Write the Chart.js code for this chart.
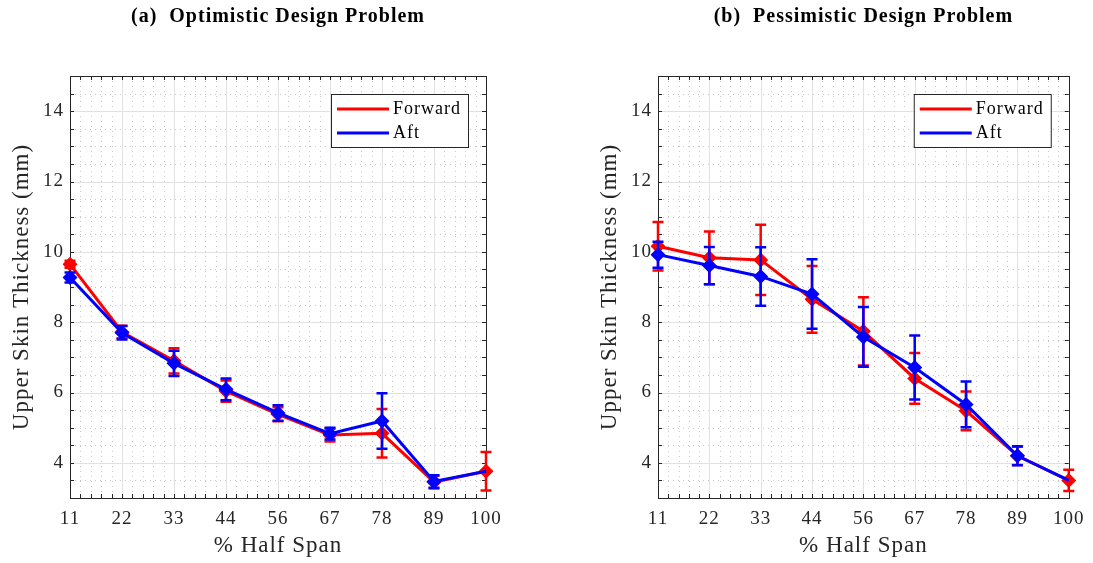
<!DOCTYPE html>
<html>
<head>
<meta charset="utf-8">
<script src="https://cdn.jsdelivr.net/npm/chart.js@4"></script>
<style>
  body { margin: 0; background: #fff; width: 1093px; height: 563px; overflow: hidden; position: relative; }
  .panel { position: absolute; top: 0; height: 563px; }
</style>
</head>
<body>
<div class="panel" style="left:0;width:546px"><canvas id="chartA"></canvas></div>
<div class="panel" style="left:588px;width:505px"><canvas id="chartB"></canvas></div>
<script>
// % half span stations
var spanLabels = ['11', '22', '33', '44', '56', '67', '78', '89', '100'];
var yTicks = [4, 6, 8, 10, 12, 14];

// (a) optimistic design problem
var optForward    = [9.65, 7.72, 6.90, 6.04, 5.38, 4.79, 4.84, 3.45, 3.76];
var optForwardErr = [0.10, 0.18, 0.36, 0.30, 0.20, 0.18, 0.69, 0.18, 0.55];
var optAft        = [9.27, 7.70, 6.83, 6.09, 5.42, 4.83, 5.19, 3.47, 3.76];
var optAftErr     = [0.14, 0.19, 0.36, 0.31, 0.22, 0.17, 0.79, 0.18, null];

// (b) pessimistic design problem
var pesForward    = [10.16, 9.83, 9.77, 8.65, 7.74, 6.40, 5.48, 4.20, 3.50];
var pesForwardErr = [0.69, 0.75, 1.00, 0.95, 0.97, 0.72, 0.55, 0.26, 0.30];
var pesAft        = [9.92, 9.61, 9.30, 8.80, 7.58, 6.71, 5.66, 4.20, 3.50];
var pesAftErr     = [0.37, 0.53, 0.83, 0.99, 0.85, 0.91, 0.65, 0.27, null];

var SERIF = "'Liberation Serif', 'DejaVu Serif', serif";
var INK = '#262626';

// latex-ish text is wider than liberation, open it up a little
var spacing = {
  id: 'spacing',
  beforeDraw: function(chart) { chart.ctx.letterSpacing = '1px'; }
};

// grid, box and inward ticks like a matlab axes
var frameGrid = {
  id: 'frameGrid',
  beforeDatasetsDraw: function(chart) {
    var ctx = chart.ctx, a = chart.chartArea;
    var xs = chart.scales.x, ys = chart.scales.y;
    var n = spanLabels.length, i, k, p;
    var minorX = [], majorX = [], minorY = [], majorY = [];
    for (i = 0; i < n; i++) {
      majorX.push(xs.getPixelForValue(i));
      if (i < n - 1) {
        for (k = 1; k < 5; k++) minorX.push(xs.getPixelForValue(i + k / 5));
      }
    }
    for (p = 3; p <= 15.001; p += 0.5) {
      if (yTicks.indexOf(p) >= 0) majorY.push(ys.getPixelForValue(p));
      else if (p > 3 && p < 15) minorY.push(ys.getPixelForValue(p));
    }
    ctx.save();
    ctx.lineWidth = 1;
    ctx.strokeStyle = '#c8c8c8';
    ctx.setLineDash([1, 4]);
    ctx.beginPath();
    minorX.forEach(function(x) { x = Math.round(x) + 0.5; ctx.moveTo(x, a.top); ctx.lineTo(x, a.bottom); });
    minorY.forEach(function(y) { y = Math.round(y) + 0.5; ctx.moveTo(a.left, y); ctx.lineTo(a.right, y); });
    ctx.stroke();
    ctx.setLineDash([]);
    ctx.strokeStyle = '#e2e2e2';
    ctx.beginPath();
    majorX.forEach(function(x) { x = Math.round(x) + 0.5; ctx.moveTo(x, a.top); ctx.lineTo(x, a.bottom); });
    majorY.forEach(function(y) { y = Math.round(y) + 0.5; ctx.moveTo(a.left, y); ctx.lineTo(a.right, y); });
    ctx.stroke();

    ctx.strokeStyle = INK;
    ctx.beginPath();
    majorX.concat(minorX).forEach(function(x) {
      x = Math.round(x) + 0.5;
      ctx.moveTo(x, a.bottom); ctx.lineTo(x, a.bottom - 4);
      ctx.moveTo(x, a.top); ctx.lineTo(x, a.top + 4);
    });
    majorY.concat(minorY).forEach(function(y) {
      y = Math.round(y) + 0.5;
      ctx.moveTo(a.left, y); ctx.lineTo(a.left + 4, y);
      ctx.moveTo(a.right, y); ctx.lineTo(a.right - 4, y);
    });
    ctx.stroke();
    ctx.strokeRect(Math.round(a.left) + 0.5, Math.round(a.top) + 0.5,
                   Math.round(a.right - a.left), Math.round(a.bottom - a.top));
    ctx.restore();
  }
};

var errorBars = {
  id: 'errorBars',
  afterDatasetDraw: function(chart, args) {
    var ds = chart.data.datasets[args.index];
    var ys = chart.scales.y, ctx = chart.ctx;
    ctx.save();
    ctx.strokeStyle = ds.borderColor;
    ctx.lineWidth = 2.5;
    args.meta.data.forEach(function(pt, i) {
      var e = ds.err[i];
      if (e === null || e === undefined) return;
      var v = ds.data[i];
      var y1 = ys.getPixelForValue(v + e), y2 = ys.getPixelForValue(v - e);
      ctx.beginPath();
      ctx.moveTo(pt.x, y1); ctx.lineTo(pt.x, y2);
      ctx.moveTo(pt.x - 5.5, y1); ctx.lineTo(pt.x + 5.5, y1);
      ctx.moveTo(pt.x - 5.5, y2); ctx.lineTo(pt.x + 5.5, y2);
      ctx.stroke();
    });
    ctx.restore();
  }
};

var titleLegend = {
  id: 'titleLegend',
  afterDraw: function(chart) {
    var ctx = chart.ctx, a = chart.chartArea;
    var o = chart.options.plugins.titleLegend;
    ctx.save();
    ctx.fillStyle = '#000';
    ctx.letterSpacing = '1px';
    ctx.font = 'bold 20px ' + SERIF;
    ctx.textAlign = 'center';
    ctx.textBaseline = 'middle';
    ctx.fillText(o.title, (a.left + a.right) / 2, 17);

    var bx = a.right - 155, by = a.top + 18, bw = 137, bh = 53;
    ctx.fillStyle = '#fff';
    ctx.fillRect(bx, by, bw, bh);
    ctx.strokeStyle = INK;
    ctx.lineWidth = 1;
    ctx.strokeRect(bx + 0.5, by + 0.5, bw, bh);
    ctx.font = '18px ' + SERIF;
    ctx.textAlign = 'left';
    chart.data.datasets.forEach(function(ds, i) {
      var ly = by + 15 + i * 24;
      ctx.strokeStyle = ds.borderColor;
      ctx.lineWidth = 3;
      ctx.beginPath();
      ctx.moveTo(bx + 6, ly); ctx.lineTo(bx + 58, ly);
      ctx.stroke();
      ctx.fillStyle = '#000';
      ctx.fillText(ds.label, bx + 62, ly);
    });
    ctx.restore();
  }
};

function makeChart(id, title, fwd, fwdErr, aft, aftErr, rightPad) {
  var aftRadius = aftErr.map(function(e) { return e === null ? 0 : 7.5; });
  return new Chart(document.getElementById(id), {
    type: 'line',
    data: {
      labels: spanLabels,
      datasets: [{
        label: 'Forward',
        data: fwd,
        err: fwdErr,
        borderColor: '#ff0000',
        backgroundColor: '#ff0000',
        borderWidth: 3,
        pointStyle: 'rectRot',
        pointRadius: 7.5,
        pointBorderWidth: 0,
        tension: 0,
        order: 2
      }, {
        label: 'Aft',
        data: aft,
        err: aftErr,
        borderColor: '#0000ff',
        backgroundColor: '#0000ff',
        borderWidth: 3,
        pointStyle: 'rectRot',
        pointRadius: aftRadius,
        pointBorderWidth: 0,
        tension: 0,
        order: 1
      }]
    },
    options: {
      responsive: true,
      maintainAspectRatio: false,
      animation: false,
      layout: { padding: { top: 76, right: rightPad, left: 0, bottom: 0 } },
      plugins: {
        legend: { display: false },
        tooltip: { enabled: false },
        titleLegend: { title: title }
      },
      scales: {
        x: {
          type: 'category',
          offset: false,
          grid: { display: false, drawTicks: false },
          border: { display: false },
          ticks: { color: INK, font: { family: SERIF, size: 19 }, padding: 10, maxRotation: 0, autoSkip: false },
          title: { display: true, text: '% Half Span', color: INK, font: { family: SERIF, size: 23 }, padding: { top: 0, bottom: 3 } },
          afterFit: function(s) { s.height = 65; }
        },
        y: {
          min: 3,
          max: 15,
          afterBuildTicks: function(s) { s.ticks = yTicks.map(function(v) { return { value: v }; }); },
          grid: { display: false, drawTicks: false },
          border: { display: false },
          ticks: { color: INK, font: { family: SERIF, size: 19 }, padding: 6 },
          title: { display: true, text: 'Upper Skin Thickness (mm)', color: INK, font: { family: SERIF, size: 23 }, padding: { top: 8, bottom: 0 } },
          afterFit: function(s) { s.width = 70; }
        }
      }
    },
    plugins: [spacing, frameGrid, errorBars, titleLegend]
  });
}

makeChart('chartA', '(a)  Optimistic Design Problem', optForward, optForwardErr, optAft, optAftErr, 60);
makeChart('chartB', '(b)  Pessimistic Design Problem', pesForward, pesForwardErr, pesAft, pesAftErr, 19);
</script>
</body>
</html>
